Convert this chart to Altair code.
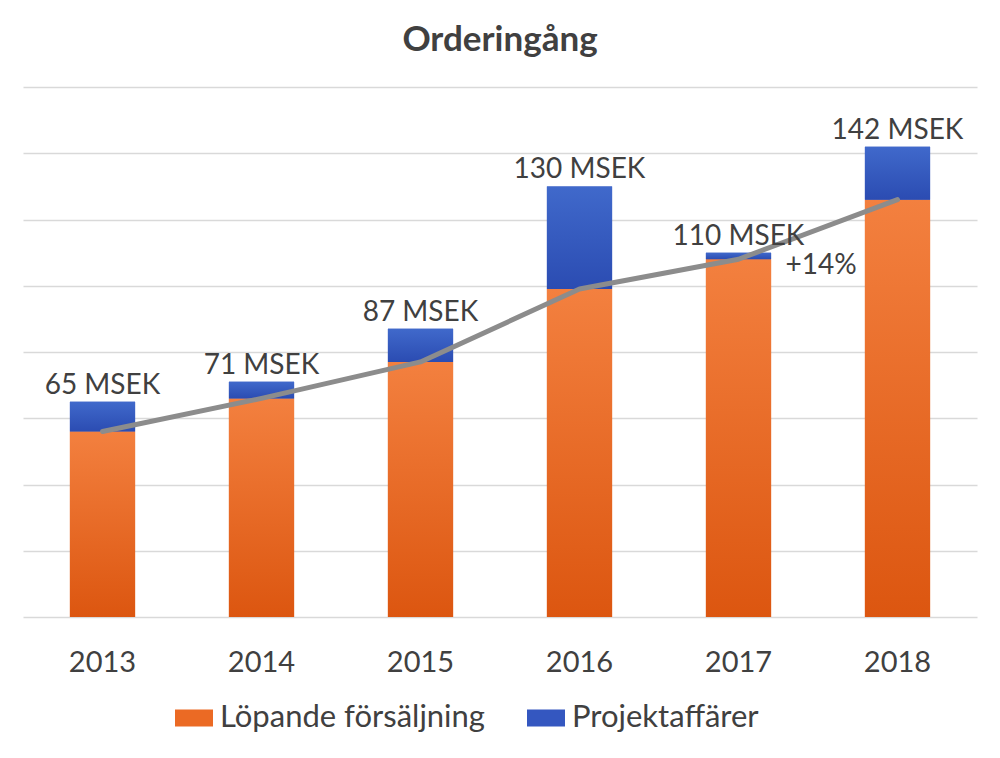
import altair as alt
import pandas as pd

years = ["2013", "2014", "2015", "2016", "2017", "2018"]
lopande = [56, 66, 77, 99, 108, 126]
projekt = [9, 5, 10, 31, 2, 16]
totals = [65, 71, 87, 130, 110, 142]
total_labels = ["65 MSEK", "71 MSEK", "87 MSEK", "130 MSEK", "110 MSEK", "142 MSEK"]
series_names = ["Löpande försäljning", "Projektaffärer"]
growth_text = ["+14%"]
growth_year = ["2017"]
growth_value = [103.5]
grid_values = [0, 20, 40, 60, 80, 100, 120, 140, 160]

FONT = "Lato"
TEXT = "#404040"

wide = pd.DataFrame({"year": years, "lop": lopande, "proj": projekt,
                     "total": totals, "label": total_labels})
wide["top"] = wide["lop"] + wide["proj"]

long = pd.DataFrame({
    "year": years + years,
    "series": [series_names[0]] * len(years) + [series_names[1]] * len(years),
    "value": lopande + projekt,
    "order": [0] * len(years) + [1] * len(years),
})
growth = pd.DataFrame({"year": growth_year, "value": growth_value, "text": growth_text})

x_axis = alt.Axis(labelAngle=0, domain=False, ticks=False, tickSize=0, labelPadding=31,
                  labelFontSize=29, labelFont=FONT, labelColor=TEXT, grid=False)
x_enc = alt.X("year:N", title=None, sort=years,
              scale=alt.Scale(domain=years, paddingInner=0.59, paddingOuter=0.295),
              axis=x_axis)
y_axis = alt.Axis(grid=True, labels=False, ticks=False, domain=False, values=grid_values,
                  gridColor="#d9d9d9", gridWidth=1.5)
y_scale = alt.Scale(domain=[0, 160], nice=False, zero=True)

orange_grad = alt.LinearGradient(
    gradient="linear",
    stops=[alt.GradientStop(color="#f3803f", offset=0),
           alt.GradientStop(color="#dc5610", offset=1)],
    x1=0, x2=0, y1=0, y2=1)
blue_grad = alt.LinearGradient(
    gradient="linear",
    stops=[alt.GradientStop(color="#4069cb", offset=0),
           alt.GradientStop(color="#2b4cb2", offset=1)],
    x1=0, x2=0, y1=0, y2=1)

legend_layer = alt.Chart(long).mark_bar().encode(
    x=x_enc,
    y=alt.Y("value:Q", stack="zero", scale=y_scale, axis=y_axis, title=None),
    color=alt.Color("series:N",
                    scale=alt.Scale(domain=series_names, range=["#eb6a24", "#3457c0"]),
                    legend=alt.Legend(title=None, orient="none", legendX=152, legendY=612,
                                      direction="horizontal",
                                      symbolType="M-1,-0.447H1V0.447H-1Z",
                                      symbolSize=1444, symbolStrokeWidth=0,
                                      labelFontSize=31, labelFont=FONT, labelColor=TEXT,
                                      labelLimit=500,
                                      labelOffset=7, columnPadding=42, padding=0,
                                      symbolOffset=0)),
    order=alt.Order("order:Q"),
)

orange_layer = alt.Chart(wide).mark_bar(color=orange_grad).encode(
    x=x_enc,
    y=alt.Y("lop:Q", scale=y_scale, axis=y_axis, title=None),
)

blue_layer = alt.Chart(wide).mark_bar(color=blue_grad).encode(
    x=x_enc,
    y=alt.Y("lop:Q", scale=y_scale, axis=y_axis, title=None),
    y2="top:Q",
)

line_layer = alt.Chart(wide).mark_line(color="#8c8c8c", strokeWidth=5, strokeCap="round",
                                       strokeJoin="round").encode(
    x=x_enc,
    y=alt.Y("lop:Q", scale=y_scale, axis=y_axis, title=None),
)

label_layer = alt.Chart(wide).mark_text(fontSize=28, font=FONT, color=TEXT,
                                        baseline="alphabetic", dy=-8).encode(
    x=x_enc,
    y=alt.Y("total:Q", scale=y_scale, axis=y_axis, title=None),
    text="label:N",
)

growth_layer = alt.Chart(growth).mark_text(fontSize=28, font=FONT, color=TEXT,
                                           baseline="alphabetic", dx=82.5).encode(
    x=x_enc,
    y=alt.Y("value:Q", scale=y_scale, axis=y_axis, title=None),
    text="text:N",
)

chart = alt.layer(
    legend_layer, orange_layer, blue_layer, line_layer, label_layer, growth_layer
).properties(
    width=954,
    height=530,
    autosize=alt.AutoSizeParams(type="none"),
    padding={"left": 15, "top": 79, "right": 15, "bottom": 120},
    title=alt.TitleParams("Orderingång", fontSize=35, fontWeight="bold", font=FONT,
                          color=TEXT, anchor="middle", offset=29),
).configure_view(stroke=None)

chart.save("out.html", embed_options={"renderer": "svg", "actions": False})
